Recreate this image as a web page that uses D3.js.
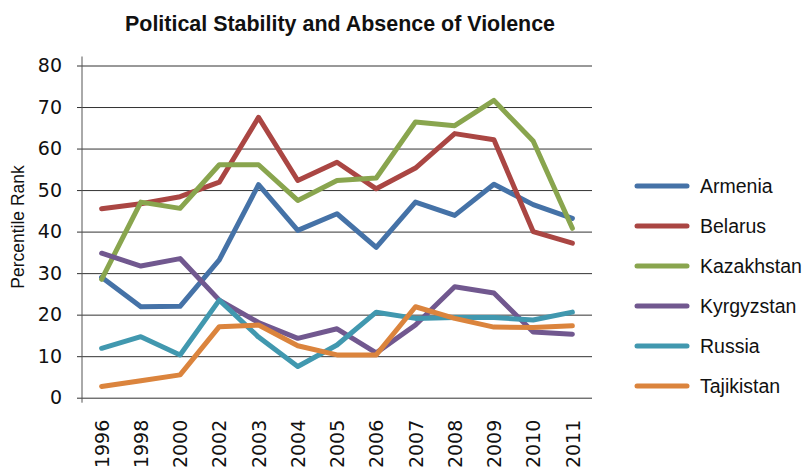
<!DOCTYPE html>
<html>
<head>
<meta charset="utf-8">
<script src="https://cdn.jsdelivr.net/npm/d3@7"></script>
<style>
  html, body { margin: 0; padding: 0; background: #fff; }
  svg text { font-family: "Liberation Sans", "DejaVu Sans", sans-serif; fill: #111; }
</style>
</head>
<body>
<svg id="chart" width="805" height="471"></svg>
<script>
// Survey years shown on the horizontal axis
const years = ["1996", "1998", "2000", "2002", "2003", "2004", "2005", "2006", "2007", "2008", "2009", "2010", "2011"];

// Percentile rank per country
const armenia    = [29.0, 21.9, 22.0, 33.2, 51.3, 40.3, 44.3, 36.2, 47.1, 43.9, 51.4, 46.5, 43.2];
const belarus    = [45.5, 46.7, 48.4, 51.9, 67.5, 52.3, 56.7, 50.3, 55.3, 63.6, 62.1, 40.0, 37.2];
const kazakhstan = [28.5, 47.1, 45.6, 56.1, 56.1, 47.5, 52.3, 52.9, 66.4, 65.5, 71.6, 61.8, 40.8];
const kyrgyzstan = [34.8, 31.7, 33.5, 23.5, 18.1, 14.3, 16.6, 10.8, 17.5, 26.7, 25.2, 15.8, 15.3];
const russia     = [11.9, 14.7, 10.3, 23.5, 14.6,  7.5, 12.7, 20.6, 19.1, 19.3, 19.3, 18.7, 20.6];
const tajikistan = [ 2.7,  4.1,  5.5, 17.1, 17.5, 12.5, 10.3, 10.3, 21.9, 19.1, 17.0, 16.9, 17.3];

const countries = ["Armenia", "Belarus", "Kazakhstan", "Kyrgyzstan", "Russia", "Tajikistan"];
const colors = ["#4572A7", "#AA4643", "#89A54E", "#71588F", "#4198AF", "#DB843D"];
const yTicks = [0, 10, 20, 30, 40, 50, 60, 70, 80];

const seriesValues = [armenia, belarus, kazakhstan, kyrgyzstan, russia, tajikistan];
const series = countries.map((name, i) => ({ name, color: colors[i], values: seriesValues[i] }));

const svg = d3.select("#chart");
const plot = { left: 82, right: 592, top: 65.5, bottom: 397.7 };

const x = d3.scalePoint().domain(years).range([plot.left, plot.right]).padding(0.5);
const y = d3.scaleLinear().domain([0, 80]).range([plot.bottom, plot.top]);

// Title, condensed to the heading width
svg.append("text")
  .attr("x", 125).attr("y", 31)
  .attr("textLength", 430).attr("lengthAdjust", "spacingAndGlyphs")
  .style("font-size", "21.5px").style("font-weight", "bold")
  .text("Political Stability and Absence of Violence");

// Horizontal gridlines with the value axis
const yAxis = d3.axisLeft(y).tickValues(yTicks).tickSize(-(plot.right - plot.left)).tickPadding(20);
const gy = svg.append("g").attr("transform", `translate(${plot.left},0)`).call(yAxis);
gy.select(".domain").remove();
gy.selectAll(".tick line").attr("stroke", "#333").attr("stroke-width", 1).attr("x1", -5);
gy.selectAll(".tick text").style("font-size", "19px").attr("fill", "#111")
  .style("font-family", "'DejaVu Sans', sans-serif");

// Vertical axis line
svg.append("line")
  .attr("x1", plot.left).attr("x2", plot.left)
  .attr("y1", plot.top - 9).attr("y2", plot.bottom + 5)
  .attr("stroke", "#555").attr("stroke-width", 1);

// Category labels, rotated
const xAxis = d3.axisBottom(x).tickSize(0).tickPadding(0);
const gx = svg.append("g").attr("transform", `translate(0,${plot.bottom})`).call(xAxis);
gx.select(".domain").remove();
gx.selectAll(".tick text")
  .attr("transform", "translate(0,22) rotate(-90)")
  .attr("text-anchor", "end").attr("dy", "0.35em").attr("x", 0).attr("y", 0)
  .style("font-size", "19px").attr("fill", "#111")
  .style("font-family", "'DejaVu Sans', sans-serif");

// Axis title
svg.append("text")
  .attr("transform", "translate(24,227) rotate(-90)")
  .attr("text-anchor", "middle")
  .style("font-size", "17.5px")
  .text("Percentile Rank");

// Series lines
const line = d3.line().x((d, i) => x(years[i])).y(d => y(d));
svg.append("g").selectAll("path").data(series).join("path")
  .attr("d", d => line(d.values))
  .attr("fill", "none")
  .attr("stroke", d => d.color)
  .attr("stroke-width", 5)
  .attr("stroke-linejoin", "round")
  .attr("stroke-linecap", "round");

// Legend
const legend = svg.append("g").attr("transform", "translate(637,186)");
const item = legend.selectAll("g").data(series).join("g")
  .attr("transform", (d, i) => `translate(0,${i * 40})`);
item.append("line")
  .attr("x1", 0).attr("x2", 50).attr("y1", 0).attr("y2", 0)
  .attr("stroke", d => d.color).attr("stroke-width", 5).attr("stroke-linecap", "round");
item.append("text")
  .attr("x", 63).attr("y", 0).attr("dy", "0.35em")
  .style("font-size", "19.5px")
  .text(d => d.name);
</script>
</body>
</html>
